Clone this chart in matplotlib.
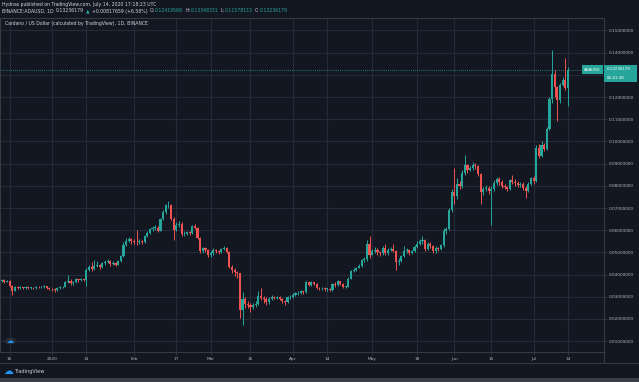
import numpy as np
import pandas as pd
import matplotlib
matplotlib.use("Agg")
import matplotlib.pyplot as plt
import matplotlib.dates as mdates
from matplotlib.patches import Rectangle, Circle
from matplotlib.lines import Line2D

# daily ADA/USD candles, Dec 12 2019 .. Jul 14 2020
dates = pd.date_range("2019-12-12", "2020-07-14", freq="D")

close_dec = [0.0372, 0.0375, 0.0368, 0.0372, 0.0350, 0.0328, 0.0345, 0.0340, 0.0342, 0.0338,
             0.0346, 0.0340, 0.0341, 0.0338, 0.0344, 0.0343, 0.0345, 0.0347, 0.0339, 0.0335]
high_dec = [0.0380, 0.0382, 0.0378, 0.0377, 0.0375, 0.0352, 0.0350, 0.0348, 0.0347, 0.0345,
            0.0350, 0.0349, 0.0345, 0.0344, 0.0350, 0.0348, 0.0349, 0.0352, 0.0350, 0.0342]
low_dec = [0.0365, 0.0368, 0.0362, 0.0365, 0.0345, 0.0308, 0.0325, 0.0335, 0.0336, 0.0333,
           0.0335, 0.0336, 0.0335, 0.0333, 0.0335, 0.0338, 0.0338, 0.0340, 0.0335, 0.0330]

close_jan = [0.0333, 0.0332, 0.0340, 0.0343, 0.0345, 0.0365, 0.0372, 0.0362, 0.0365, 0.0378,
             0.0374, 0.0378, 0.0376, 0.0420, 0.0432, 0.0425, 0.0440, 0.0445, 0.0432, 0.0450,
             0.0455, 0.0460, 0.0448, 0.0452, 0.0445, 0.0460, 0.0482, 0.0535, 0.0552, 0.0560, 0.0550]
high_jan = [0.0340, 0.0338, 0.0343, 0.0348, 0.0350, 0.0372, 0.0400, 0.0380, 0.0370, 0.0385,
            0.0382, 0.0383, 0.0382, 0.0430, 0.0445, 0.0455, 0.0465, 0.0460, 0.0448, 0.0458,
            0.0465, 0.0470, 0.0465, 0.0462, 0.0455, 0.0465, 0.0490, 0.0545, 0.0565, 0.0570, 0.0565]
low_jan = [0.0325, 0.0322, 0.0328, 0.0336, 0.0338, 0.0342, 0.0360, 0.0352, 0.0355, 0.0362,
           0.0368, 0.0370, 0.0370, 0.0350, 0.0415, 0.0418, 0.0420, 0.0432, 0.0425, 0.0430,
           0.0445, 0.0450, 0.0440, 0.0442, 0.0438, 0.0442, 0.0455, 0.0478, 0.0530, 0.0545, 0.0540]

close_feb = [0.0548, 0.0545, 0.0553, 0.0545, 0.0575, 0.0588, 0.0605, 0.0610, 0.0612, 0.0598,
             0.0650, 0.0680, 0.0712, 0.0715, 0.0650, 0.0600, 0.0625, 0.0630, 0.0582, 0.0585,
             0.0590, 0.0588, 0.0620, 0.0612, 0.0565, 0.0505, 0.0518, 0.0510, 0.0490]
high_feb = [0.0560, 0.0600, 0.0560, 0.0558, 0.0580, 0.0595, 0.0612, 0.0618, 0.0625, 0.0618,
            0.0655, 0.0690, 0.0718, 0.0730, 0.0720, 0.0660, 0.0635, 0.0640, 0.0635, 0.0595,
            0.0598, 0.0595, 0.0625, 0.0628, 0.0615, 0.0570, 0.0525, 0.0525, 0.0515]
low_feb = [0.0538, 0.0535, 0.0540, 0.0538, 0.0542, 0.0570, 0.0585, 0.0598, 0.0600, 0.0590,
           0.0595, 0.0645, 0.0675, 0.0698, 0.0645, 0.0556, 0.0595, 0.0615, 0.0575, 0.0575,
           0.0580, 0.0580, 0.0585, 0.0605, 0.0560, 0.0498, 0.0495, 0.0500, 0.0480]

close_mar = [0.0495, 0.0510, 0.0505, 0.0500, 0.0515, 0.0522, 0.0500, 0.0435, 0.0420, 0.0412,
             0.0405, 0.0240, 0.0290, 0.0268, 0.0262, 0.0252, 0.0262, 0.0268, 0.0305, 0.0295,
             0.0290, 0.0275, 0.0290, 0.0300, 0.0295, 0.0300, 0.0290, 0.0280, 0.0275, 0.0298, 0.0300]
high_mar = [0.0505, 0.0518, 0.0515, 0.0510, 0.0520, 0.0530, 0.0525, 0.0505, 0.0445, 0.0430,
            0.0418, 0.0408, 0.0320, 0.0300, 0.0280, 0.0272, 0.0270, 0.0280, 0.0325, 0.0338,
            0.0305, 0.0298, 0.0298, 0.0310, 0.0305, 0.0305, 0.0305, 0.0295, 0.0285, 0.0302, 0.0308]
low_mar = [0.0480, 0.0488, 0.0495, 0.0492, 0.0495, 0.0510, 0.0495, 0.0430, 0.0405, 0.0395,
           0.0385, 0.0205, 0.0173, 0.0250, 0.0250, 0.0230, 0.0245, 0.0255, 0.0262, 0.0285,
           0.0272, 0.0265, 0.0268, 0.0285, 0.0288, 0.0290, 0.0285, 0.0270, 0.0265, 0.0272, 0.0292]

close_apr = [0.0310, 0.0315, 0.0318, 0.0325, 0.0320, 0.0365, 0.0355, 0.0365, 0.0358, 0.0340,
             0.0338, 0.0340, 0.0335, 0.0335, 0.0330, 0.0358, 0.0355, 0.0370, 0.0358, 0.0345,
             0.0345, 0.0382, 0.0415, 0.0422, 0.0430, 0.0440, 0.0465, 0.0470, 0.0540, 0.0490]
high_apr = [0.0315, 0.0320, 0.0325, 0.0330, 0.0328, 0.0370, 0.0372, 0.0370, 0.0368, 0.0362,
            0.0345, 0.0345, 0.0342, 0.0340, 0.0338, 0.0362, 0.0365, 0.0375, 0.0372, 0.0362,
            0.0350, 0.0388, 0.0420, 0.0428, 0.0435, 0.0448, 0.0470, 0.0478, 0.0555, 0.0575]
low_apr = [0.0295, 0.0305, 0.0308, 0.0312, 0.0312, 0.0318, 0.0348, 0.0350, 0.0352, 0.0335,
           0.0330, 0.0332, 0.0328, 0.0328, 0.0325, 0.0328, 0.0345, 0.0350, 0.0352, 0.0340,
           0.0338, 0.0342, 0.0378, 0.0410, 0.0418, 0.0428, 0.0435, 0.0458, 0.0462, 0.0475]

close_may = [0.0505, 0.0512, 0.0500, 0.0495, 0.0520, 0.0495, 0.0512, 0.0515, 0.0505, 0.0455,
             0.0462, 0.0482, 0.0505, 0.0510, 0.0495, 0.0505, 0.0525, 0.0538, 0.0550, 0.0555,
             0.0515, 0.0540, 0.0528, 0.0505, 0.0520, 0.0515, 0.0535, 0.0595, 0.0605, 0.0690, 0.0770]
high_may = [0.0515, 0.0525, 0.0518, 0.0505, 0.0530, 0.0540, 0.0520, 0.0525, 0.0540, 0.0510,
            0.0475, 0.0490, 0.0530, 0.0520, 0.0515, 0.0512, 0.0532, 0.0550, 0.0560, 0.0575,
            0.0560, 0.0548, 0.0548, 0.0535, 0.0528, 0.0525, 0.0540, 0.0610, 0.0615, 0.0700, 0.0785]
low_may = [0.0488, 0.0498, 0.0490, 0.0485, 0.0490, 0.0490, 0.0488, 0.0505, 0.0500, 0.0420,
           0.0445, 0.0455, 0.0478, 0.0495, 0.0490, 0.0492, 0.0500, 0.0520, 0.0532, 0.0540,
           0.0505, 0.0510, 0.0520, 0.0495, 0.0498, 0.0505, 0.0510, 0.0525, 0.0585, 0.0600, 0.0680]

close_jun = [0.0752, 0.0810, 0.0800, 0.0860, 0.0892, 0.0872, 0.0880, 0.0895, 0.0890, 0.0852,
             0.0770, 0.0785, 0.0790, 0.0775, 0.0785, 0.0812, 0.0830, 0.0815, 0.0800, 0.0795,
             0.0785, 0.0825, 0.0818, 0.0812, 0.0805, 0.0808, 0.0790, 0.0775, 0.0810, 0.0835]
high_jun = [0.0880, 0.0835, 0.0820, 0.0870, 0.0938, 0.0900, 0.0890, 0.0907, 0.0905, 0.0895,
            0.0860, 0.0795, 0.0805, 0.0800, 0.0800, 0.0825, 0.0840, 0.0838, 0.0825, 0.0808,
            0.0800, 0.0830, 0.0850, 0.0832, 0.0820, 0.0815, 0.0815, 0.0800, 0.0818, 0.0842]
low_jun = [0.0720, 0.0740, 0.0785, 0.0792, 0.0850, 0.0860, 0.0865, 0.0872, 0.0878, 0.0845,
           0.0720, 0.0760, 0.0775, 0.0765, 0.0624, 0.0775, 0.0805, 0.0805, 0.0792, 0.0785,
           0.0775, 0.0780, 0.0808, 0.0800, 0.0795, 0.0795, 0.0780, 0.0745, 0.0770, 0.0805]

close_jul = [0.0820, 0.0972, 0.0935, 0.0985, 0.0968, 0.1055, 0.1190, 0.1305, 0.1245, 0.1185,
             0.1255, 0.1275, 0.1242, 0.1324]
high_jul = [0.0845, 0.0985, 0.0990, 0.1000, 0.0995, 0.1065, 0.1200, 0.1410, 0.1320, 0.1250,
            0.1265, 0.1290, 0.1376, 0.1335]
low_jul = [0.0810, 0.0815, 0.0925, 0.0928, 0.0955, 0.0962, 0.1050, 0.1175, 0.1200, 0.1090,
           0.1175, 0.1250, 0.1230, 0.1158]

first_open = 0.0370
last_price = 0.13236179

xtick_dates = ["2019-12-16", "2020-01-01", "2020-01-14", "2020-02-01", "2020-02-17", "2020-03-01",
               "2020-03-16", "2020-04-01", "2020-04-14", "2020-05-01", "2020-05-18", "2020-06-01",
               "2020-06-15", "2020-07-01", "2020-07-14"]
xtick_labels = ["16", "2020", "14", "Feb", "17", "Mar", "16", "Apr", "14", "May", "18", "Jun",
                "15", "Jul", "14"]
yticks = [0.01, 0.02, 0.03, 0.04, 0.05, 0.06, 0.07, 0.08, 0.09, 0.10, 0.11, 0.12, 0.13, 0.14, 0.15]
hidden_ytick = 0.13  # covered by the last-price box

close = np.array(close_dec + close_jan + close_feb + close_mar + close_apr + close_may + close_jun + close_jul)
high = np.array(high_dec + high_jan + high_feb + high_mar + high_apr + high_may + high_jun + high_jul)
low = np.array(low_dec + low_jan + low_feb + low_mar + low_apr + low_may + low_jun + low_jul)
opn = np.concatenate([[first_open], close[:-1]])

BG = "#131722"
GRID = "#262a36"
TXT = "#d1d4dc"
UP = "#26a69a"
DOWN = "#ef5350"
W, H = 639, 382


def fx(px):
    return px / W


def fy(py):
    return 1 - py / H


fig = plt.figure(figsize=(W / 100, H / 100), dpi=100, facecolor=BG)
ax = fig.add_axes([fx(0), fy(352), fx(604), (352 - 18) / H])
ax.set_facecolor(BG)

x = mdates.date2num(dates)
up = close >= opn
cols = np.where(up, UP, DOWN)
ax.vlines(x, low, high, colors=cols, linewidth=0.7, zorder=3)
body = np.maximum(np.abs(close - opn), 0.00025)
ax.bar(x, body, bottom=np.minimum(opn, close), width=0.8, color=cols, linewidth=0, zorder=4)

ax.axhline(last_price, color=UP, linestyle=(0, (1, 1.5)), linewidth=0.6, zorder=2)

jan1 = mdates.date2num(pd.Timestamp("2020-01-01"))
ax.set_xlim(jan1 - 19.65, jan1 + 208.6)
ax.set_ylim(0.00511, 0.15563)

ax.set_xticks(mdates.date2num(pd.to_datetime(xtick_dates)))
ax.set_xticklabels(xtick_labels)
ax.yaxis.tick_right()
ax.set_yticks(yticks)
ax.set_yticklabels(["" if abs(v - hidden_ytick) < 1e-9 else "{:.8f}".format(v) for v in yticks])
ax.tick_params(axis="both", colors="#3a3e4a", labelcolor="#b2b5be", labelsize=3.1,
               length=2, width=0.5)
ax.tick_params(axis="x", pad=1.8)
ax.tick_params(axis="y", pad=1.5)
ax.grid(True, color=GRID, linewidth=0.8, zorder=0)
for s in ax.spines.values():
    s.set_color("#363a45")
    s.set_linewidth(0.8)

# price-axis pane and footer lines
fig.add_artist(Line2D([fx(604), fx(604)], [fy(352), fy(363)], color="#363a45", lw=0.8))
fig.add_artist(Line2D([0, 1], [fy(363), fy(363)], color="#363a45", lw=0.8))
fig.add_artist(Rectangle((0, 0), 1, 4 / H, transform=fig.transFigure, color="#3a3e49", lw=0))

# last price labels
fig.add_artist(Rectangle((fx(582), fy(73.5)), 21 / W, 8 / H, transform=fig.transFigure,
                         color=UP, lw=0, zorder=5))
fig.text(fx(592.5), fy(69.6), "ADAUSD", color="white", fontsize=2.8, ha="center", va="center", zorder=6)
fig.add_artist(Rectangle((fx(604), fy(81.5)), 33 / W, 16 / H, transform=fig.transFigure,
                         color=UP, lw=0, zorder=5))
fig.text(fx(606.5), fy(69.3), "{:.8f}".format(last_price), color="white", fontsize=2.9,
         ha="left", va="center", zorder=6)
fig.text(fx(606.5), fy(77.8), "06:41:38", color="white", fontsize=2.9, ha="left", va="center", zorder=6)

# header
fig.text(fx(2), fy(4.5), "Hydnas published on TradingView.com, July 14, 2020 17:18:23 UTC",
         color=TXT, fontsize=3.3, ha="left", va="center")
renderer = fig.canvas.get_renderer()
parts = [("BINANCE:ADAUSD, 1D", TXT), ("0.13236179", TXT), ("\u25b2", UP),
         ("+0.00817659 (+6.58%)", TXT), ("O:", TXT), ("0.12419568", UP), ("H:", TXT),
         ("0.13348331", UP), ("L:", TXT), ("0.11578115", UP), ("C:", TXT), ("0.13236179", UP)]
px = 2
for s, c in parts:
    t = fig.text(fx(px), fy(11), s, color=c, fontsize=3.3, ha="left", va="center")
    w = t.get_window_extent(renderer=renderer).width
    tight = s in ("O:", "H:", "L:", "C:")
    px += w + (0.3 if tight else 2.2)

fig.text(fx(5), fy(23), "Cardano / US Dollar (calculated by TradingView), 1D, BINANCE",
         color=TXT, fontsize=3.3, ha="left", va="center")

# small logo bubble in chart and footer logo
fig.add_artist(Circle((fx(10.5), fy(341)), 5.5 / W, transform=fig.transFigure,
                      color="#2a2e39", lw=0, zorder=5))
fig.text(fx(10.5), fy(341), "\u2601", color="#2196f3", fontsize=5, ha="center", va="center", zorder=6)
fig.text(fx(8), fy(371), "\u2601", color="#2196f3", fontsize=7, ha="center", va="center")
fig.text(fx(14), fy(371), "TradingView", color=TXT, fontsize=3.6, ha="left", va="center")

fig.savefig("out.png", dpi=100, facecolor=BG)
